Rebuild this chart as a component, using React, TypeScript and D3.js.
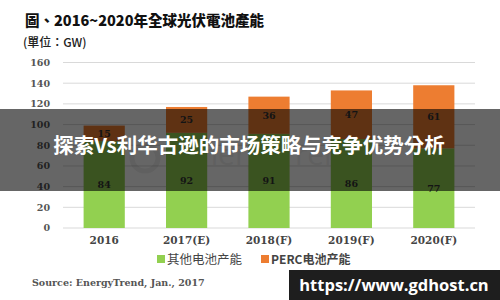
import React from "react";
import * as d3 from "d3";

const categories = ["2016", "2017(E)", "2018(F)", "2019(F)", "2020(F)"];
const otherCapacity = [84, 92, 91, 86, 77];
const percCapacity = [15, 25, 36, 47, 61];
const yTicks = [0, 20, 40, 60, 80, 100, 120, 140, 160];
const seriesNames = ["其他电池产能", "PERC电池产能"];
const colors = ["#92D050", "#ED7D31"];

const W = 500;
const H = 300;
const plot = { left: 63, right: 475, top: 62.5, bottom: 228 };

export default function App() {
  const x = d3
    .scaleBand<string>()
    .domain(categories)
    .range([plot.left, plot.right])
    .paddingInner(0.5)
    .paddingOuter(0.25);
  const y = d3.scaleLinear().domain([0, 160]).range([plot.bottom, plot.top]);

  const rows = categories.map((c, i) => ({ cat: c, other: otherCapacity[i], perc: percCapacity[i] }));
  const stack = d3.stack<any>().keys(["other", "perc"])(rows);

  const serif = "'DejaVu Serif', serif";
  const cjk = "'Noto Sans CJK TC', 'Noto Sans CJK SC', sans-serif";

  return (
    <svg
      width={W}
      height={H}
      viewBox={`0 0 ${W} ${H}`}
      style={{ position: "absolute", left: 0, top: 0, background: "#fff" }}
    >
      <rect x={0} y={0} width={W} height={H} fill="#fff" />
      <text x={25} y={26} fontFamily={cjk} fontWeight={900} fontSize={14.5} fill="#111">
        圖、2016~2020年全球光伏電池產能
      </text>
      <text x={23} y={47} fontFamily={cjk} fontWeight={500} fontSize={12} fill="#222">
        (單位：GW)
      </text>

      {yTicks.map((t) => (
        <g key={t}>
          <line x1={plot.left} x2={plot.right} y1={y(t)} y2={y(t)} stroke="#d9d9d9" strokeWidth={1} />
          <text
            x={50}
            y={y(t)}
            dy="0.35em"
            textAnchor="end"
            fontFamily={serif}
            fontWeight={700}
            fontSize={9.5}
            fill="#555"
          >
            {t}
          </text>
        </g>
      ))}

      <circle cx={145} cy={158} r={13} fill="none" stroke="#000" strokeWidth={5} opacity={0.06} />
      <text
        x={183}
        y={165}
        fontFamily="'Open Sans', sans-serif"
        fontSize={30}
        fill="#000"
        opacity={0.06}
      >
        EnergyTrend
      </text>

      {stack.map((s, si) =>
        s.map((d: any, i: number) => (
          <g key={`${si}-${i}`}>
            <rect
              x={x(categories[i])}
              y={y(d[1])}
              width={x.bandwidth()}
              height={y(d[0]) - y(d[1])}
              fill={colors[si]}
            />
            <text
              x={(x(categories[i]) as number) + x.bandwidth() / 2}
              y={(y(d[0]) + y(d[1])) / 2}
              dy="0.35em"
              textAnchor="middle"
              fontFamily={serif}
              fontWeight={700}
              fontSize={9.5}
              fill="#333"
            >
              {si === 0 ? otherCapacity[i] : percCapacity[i]}
            </text>
          </g>
        ))
      )}

      {categories.map((c) => (
        <text
          key={c}
          x={(x(c) as number) + x.bandwidth() / 2}
          y={244}
          textAnchor="middle"
          fontFamily={serif}
          fontWeight={700}
          fontSize={10.5}
          fill="#444"
        >
          {c}
        </text>
      ))}

      <rect x={157} y={255} width={8} height={8} fill={colors[0]} />
      <text x={167} y={263.5} fontFamily={cjk} fontSize={12.5} fill="#444">
        {seriesNames[0]}
      </text>
      <rect x={261} y={255} width={8} height={8} fill={colors[1]} />
      <text x={271} y={263.5} fontFamily={cjk} fontWeight={700} fontSize={12} fill="#444">
        {seriesNames[1]}
      </text>

      <text x={32} y={286} fontFamily={serif} fontWeight={700} fontSize={9.5} fill="#555">
        Source: EnergyTrend, Jan., 2017
      </text>

      <rect x={0} y={109} width={W} height={82} fill="#000" opacity={0.6} />
      <text
        x={249}
        y={153}
        textAnchor="middle"
        fontFamily={cjk}
        fontWeight={700}
        fontSize={20.5}
        fill="#fff"
      >
        探索Vs利华古逊的市场策略与竞争优势分析
      </text>

      <rect x={289} y={270} width={211} height={30} fill="#1e1e1e" />
      <text
        x={394}
        y={291}
        textAnchor="middle"
        fontFamily="'Open Sans', 'DejaVu Sans', sans-serif"
        fontWeight={700}
        fontSize={16.5}
        fill="#fff"
      >
        https://www.gdhost.cn
      </text>
    </svg>
  );
}
